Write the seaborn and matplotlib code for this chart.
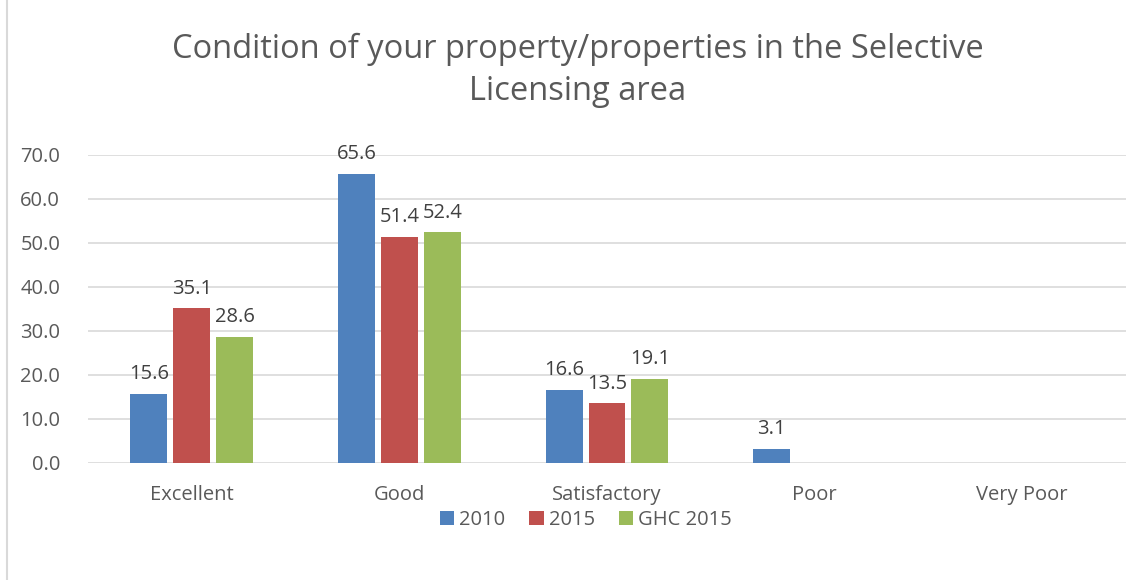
import matplotlib.pyplot as plt
import pandas as pd
import seaborn as sns
from matplotlib.patches import Rectangle

categories = ["Excellent", "Good", "Satisfactory", "Poor", "Very Poor"]
series = ["2010", "2015", "GHC 2015"]
values_2010 = [15.6, 65.6, 16.6, 3.1, 0.0]
values_2015 = [35.1, 51.4, 13.5, 0.0, 0.0]
values_ghc = [28.6, 52.4, 19.1, 0.0, 0.0]
colors = ["#4F81BD", "#C0504D", "#9BBB59"]

TEXT = "#595959"


def main():
    sns.set_theme(style="white")
    plt.rcParams["font.family"] = ["Open Sans", "DejaVu Sans"]

    rows = []
    for name, vals in zip(series, [values_2010, values_2015, values_ghc]):
        for cat, v in zip(categories, vals):
            rows.append({"category": cat, "series": name, "value": v})
    df = pd.DataFrame(rows)

    fig = plt.figure(figsize=(11.42, 5.8), dpi=100)
    ax = fig.add_axes([0.077, 0.202, 0.909, 0.531])

    sns.barplot(
        data=df,
        x="category",
        y="value",
        hue="series",
        order=categories,
        hue_order=series,
        palette=colors,
        saturation=1,
        width=0.62,
        gap=0.14,
        linewidth=0,
        ax=ax,
        legend=True,
    )

    ax.set_ylim(0, 70)
    ax.set_yticks(range(0, 71, 10))
    ax.set_yticklabels([f"{t:.1f}" for t in range(0, 71, 10)])
    ax.yaxis.grid(True, color="#D9D9D9", linewidth=1.2)
    ax.set_axisbelow(True)
    for s in ax.spines.values():
        s.set_visible(False)
    ax.set_xlabel("")
    ax.set_ylabel("")
    ax.tick_params(axis="both", length=0, labelsize=14.5, colors=TEXT)
    ax.tick_params(axis="x", pad=16)
    ax.tick_params(axis="y", pad=20)

    for cont in ax.containers:
        labels = [f"{b.get_height():.1f}" if b.get_height() > 0 else "" for b in cont]
        ax.bar_label(cont, labels=labels, padding=7, fontsize=14.5, color="#404040")

    handles, labs = ax.get_legend_handles_labels()
    ax.legend_.remove()
    fig.legend(
        handles,
        labs,
        loc="center",
        bbox_to_anchor=(0.513, 0.103),
        ncol=3,
        frameon=False,
        fontsize=14.5,
        labelcolor=TEXT,
        handlelength=0.7,
        handleheight=0.7,
        handletextpad=0.25,
        columnspacing=1.2,
    )

    fig.text(
        0.506,
        0.879,
        "Condition of your property/properties in the Selective\nLicensing area",
        ha="center",
        va="center",
        fontsize=23.5,
        color=TEXT,
        linespacing=1.38,
    )

    fig.patches.append(
        Rectangle((0.006, -0.01), 1.0, 1.02, transform=fig.transFigure,
                  fill=False, edgecolor="#D9D9D9", linewidth=1.5)
    )

    fig.savefig("out.png", dpi=100)
    plt.close(fig)


if __name__ == "__main__":
    main()
